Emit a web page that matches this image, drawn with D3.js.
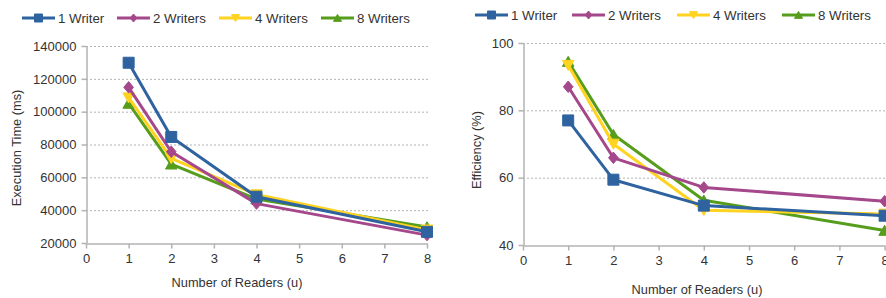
<!DOCTYPE html>
<html><head><meta charset="utf-8">
<script src="https://cdn.jsdelivr.net/npm/d3@7"></script>
<style>
body{margin:0;background:#fff;}
svg{display:block;font-family:"Liberation Sans",Arial,sans-serif;}
</style></head><body>
<svg id="c" width="886" height="298"></svg>
<script>
const readers = [1, 2, 4, 8];
const seriesNames = ["1 Writer", "2 Writers", "4 Writers", "8 Writers"];
const execTime1 = [129800, 84600, 48200, 26800];
const execTime2 = [114800, 75600, 44000, 24800];
const execTime4 = [108500, 71500, 49500, 28000];
const execTime8 = [105000, 68000, 46800, 29800];
const eff1 = [77, 59.4, 51.7, 48.7];
const eff2 = [87, 65.9, 57.1, 53];
const eff4 = [93.4, 70, 50.3, 49.2];
const eff8 = [94.5, 72.8, 53.3, 44.3];
const xTicks = [0, 1, 2, 3, 4, 5, 6, 7, 8];
const yTicksTime = [20000, 40000, 60000, 80000, 100000, 120000, 140000];
const yTicksEff = [40, 60, 80, 100];

const colors = ["#2e63a0", "#a5478b", "#ffd320", "#579d1c"];
const shapes = ["square", "diamond", "tridown", "triup"];

const svg = d3.select("#c");

function marker(g, shapeIdx, size, color) {
  const s = shapes[shapeIdx];
  let path;
  const h = size;
  if (s === "tridown") {
    path = `M${-h/2},${-h*0.42}L${h/2},${-h*0.42}L0,${h*0.45}Z`;
  } else if (s === "triup") {
    path = `M${-h/2},${h*0.42}L${h/2},${h*0.42}L0,${-h*0.45}Z`;
  } else if (s === "diamond") {
    path = `M0,${-h/2}L${h*0.42},0L0,${h/2}L${-h*0.42},0Z`;
  } else {
    path = `M${-h/2},${-h/2}L${h/2},${-h/2}L${h/2},${h/2}L${-h/2},${h/2}Z`;
  }
  return g.append("path").attr("d", path).attr("fill", color).attr("stroke", color).attr("stroke-width", 1);
}

function chart(cfg) {
  const g = svg.append("g");
  const x = d3.scaleLinear().domain([0, 8]).range([cfg.x0, cfg.x1]);
  const y = d3.scaleLinear().domain(cfg.yDomain).range([cfg.y1, cfg.y0]);

  g.append("g").selectAll("line").data(cfg.yTicks.filter(v => v !== cfg.yDomain[0])).join("line")
    .attr("x1", cfg.x0).attr("x2", cfg.x1 + 1)
    .attr("y1", d => y(d) + 0.5).attr("y2", d => y(d) + 0.5)
    .attr("stroke", "#b3b3b3").attr("stroke-width", 1).attr("stroke-dasharray", "2,2");

  const xa = g.append("g").attr("transform", `translate(0,${cfg.y1 + 0.5})`)
    .call(d3.axisBottom(x).tickValues(xTicks).tickSize(5).tickPadding(5).tickSizeOuter(0));
  xa.select(".domain").attr("stroke", "#b3b3b3").attr("stroke-width", 1.5);
  xa.selectAll(".tick line").attr("stroke", "#b3b3b3").attr("stroke-width", 1.5);
  xa.selectAll("text").attr("font-size", 13).attr("fill", "#333").attr("font-family", "Liberation Sans, Arial, sans-serif");

  const ya = g.append("g").attr("transform", `translate(${cfg.x0 + 0.5},0)`)
    .call(d3.axisLeft(y).tickValues(cfg.yTicks).tickSize(5).tickPadding(5).tickSizeOuter(0).tickFormat(d3.format("d")));
  ya.select(".domain").attr("stroke", "#b3b3b3").attr("stroke-width", 1.5);
  ya.selectAll(".tick line").attr("stroke", "#b3b3b3").attr("stroke-width", 1.5);
  ya.selectAll("text").attr("font-size", 13).attr("fill", "#333").attr("font-family", "Liberation Sans, Arial, sans-serif");

  g.append("text").attr("x", cfg.xTitleX).attr("y", cfg.xTitleY)
    .attr("text-anchor", "middle").attr("font-size", 12.8).attr("fill", "#333").text("Number of Readers (u)");
  g.append("text").attr("transform", `translate(${cfg.yTitleX},${cfg.yTitleY}) rotate(-90)`)
    .attr("text-anchor", "middle").attr("font-size", 12.8).attr("fill", "#333").text(cfg.yTitle);

  const line = d3.line().x((d, i) => x(readers[i])).y(d => y(d));
  const order = [3, 2, 1, 0];
  order.forEach(si => {
    const vals = cfg.series[si];
    g.append("path").datum(vals).attr("d", line).attr("fill", "none")
      .attr("stroke", colors[si]).attr("stroke-width", 3).attr("stroke-linejoin", "round");
    vals.forEach((v, i) => {
      const mg = g.append("g").attr("transform", `translate(${x(readers[i])},${y(v)})`);
      marker(mg, si, si === 0 ? 11 : 11.5, colors[si]);
    });
  });

  cfg.legendX.forEach((lx, si) => {
    const lg = g.append("g").attr("transform", `translate(${lx},${cfg.legendY})`);
    lg.append("line").attr("x1", 0).attr("x2", 33).attr("y1", 0).attr("y2", 0)
      .attr("stroke", colors[si]).attr("stroke-width", 3);
    const mg = lg.append("g").attr("transform", "translate(16.5,0)");
    marker(mg, si, 8, colors[si]);
    lg.append("text").attr("x", 36).attr("y", 4.5).attr("font-size", 13.3).attr("fill", "#333").text(seriesNames[si]);
  });
}

chart({
  x0: 86, x1: 427, y0: 46, y1: 243,
  yDomain: [20000, 140000], yTicks: yTicksTime,
  series: [execTime1, execTime2, execTime4, execTime8],
  xTitleX: 237, xTitleY: 287,
  yTitleX: 21, yTitleY: 148, yTitle: "Execution Time (ms)",
  legendX: [22, 117, 219, 321], legendY: 18
});
chart({
  x0: 523, x1: 884.6, y0: 43, y1: 245,
  yDomain: [40, 100], yTicks: yTicksEff,
  series: [eff1, eff2, eff4, eff8],
  xTitleX: 697, xTitleY: 294,
  yTitleX: 481, yTitleY: 150, yTitle: "Efficiency (%)",
  legendX: [475, 572, 677, 782], legendY: 15
});
</script>
</body></html>
